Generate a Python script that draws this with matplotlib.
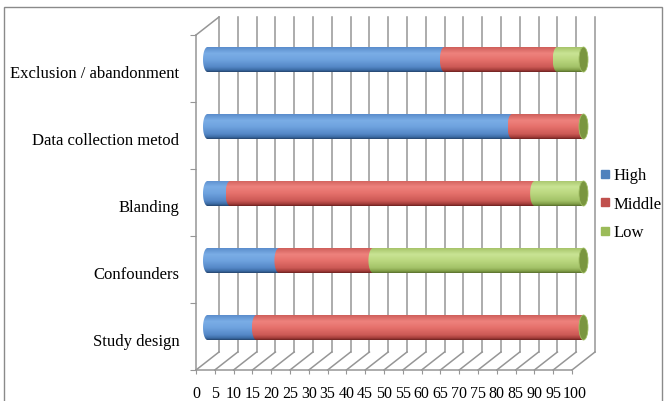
import numpy as np
import matplotlib.pyplot as plt
import matplotlib.colors as mcolors
import matplotlib.transforms as mtransforms
from matplotlib.patches import Ellipse, Polygon, Rectangle
from matplotlib.lines import Line2D

# Data (percent of studies per risk-of-bias level)
categories = ['Study design', 'Confounders', 'Blanding',
              'Data collection metod', 'Exclusion / abandonment']
high = [13, 19, 6, 81, 63]
middle = [87, 25, 81, 19, 30]
low = [0, 56, 13, 0, 7]
series_names = ['High', 'Middle', 'Low']
x_ticks = list(range(0, 101, 5))

# pseudo-3D geometry (converted from pixels to data units)
PX_X = 3.76          # pixels per percent
PX_Y = 67.0          # pixels per category
DX = 23 / PX_X       # depth offset of the back wall
DY = 18 / PX_Y
BAR_H = 25 / PX_Y    # cylinder diameter
CAP_A = 4.5 / PX_X   # half-width of cylinder end ellipse

flat = {'High': '#4F81BD', 'Middle': '#C0504D', 'Low': '#9BBB59'}
stops = [0, 0.25, 0.5, 0.8, 0.93, 1.0]
shades = {
    'High':   ['#5b8dcc', '#7aade6', '#6fa3df', '#5487c7', '#3b6aa3', '#25456e'],
    'Middle': ['#cf5f5b', '#ee827d', '#e6716c', '#cc5955', '#a23c39', '#6e2220'],
    'Low':    ['#a7c46a', '#c9e494', '#bbd880', '#a3c268', '#809d47', '#586f2c'],
}
grid_col = '#969696'


def gradient(colors, n=64):
    rgb = np.array([mcolors.to_rgb(c) for c in colors])
    t = np.linspace(0, 1, n)
    arr = np.stack([np.interp(t, stops, rgb[:, k]) for k in range(3)], axis=-1)
    return arr[:, None, :]


def cylinder_piece(ax, x0, x1, yc, grad, z):
    ylo, yhi = yc - BAR_H / 2, yc + BAR_H / 2
    im = ax.imshow(grad, extent=(x0 - CAP_A, x1, ylo, yhi), aspect='auto',
                   interpolation='bilinear', zorder=z)
    th = np.linspace(np.pi / 2, 3 * np.pi / 2, 40)
    pts = [(x0 + CAP_A * np.cos(a), yc + BAR_H / 2 * np.sin(a)) for a in th]
    pts += [(x1, ylo), (x1, yhi)]
    clip = Polygon(pts, closed=True, transform=ax.transData)
    im.set_clip_path(clip)


fig = plt.figure(figsize=(6.64, 4.02), dpi=100)
ax = fig.add_axes([196 / 664, 31 / 402, 399 / 664, 353 / 402])
for s in ax.spines.values():
    s.set_visible(False)

# back wall gridlines, floor diagonals and front axis lines
for v in x_ticks:
    ax.plot([v + DX, v + DX], [-0.5 + DY, 4.5 + DY], color=grid_col, lw=1.1, zorder=1, clip_on=False)
    ax.plot([v, v + DX], [-0.5, -0.5 + DY], color=grid_col, lw=1.1, zorder=1, clip_on=False)
ax.plot([0, DX], [4.5, 4.5 + DY], color=grid_col, lw=1.1, zorder=1, clip_on=False)
ax.plot([0, 0], [-0.5, 4.5], color=grid_col, lw=1.1, zorder=1, clip_on=False)
ax.plot([0, 100], [-0.5, -0.5], color=grid_col, lw=1.1, zorder=1, clip_on=False)

# stacked cylinders sit halfway into the depth
grads = {k: gradient(v) for k, v in shades.items()}
for i, cat in enumerate(categories):
    yc = i + DY / 2
    left = DX / 2
    z = 3
    for name, vals in zip(series_names, [high, middle, low]):
        w = vals[i]
        if w > 0:
            cylinder_piece(ax, left, left + w, yc, grads[name], z)
        left += w
        z += 1
    cap = Ellipse((100 + DX / 2, yc), 2 * CAP_A, BAR_H, facecolor='#7a963f',
                  edgecolor='#9fbd63', lw=0.6, zorder=z)
    ax.add_patch(cap)

ax.set_xlim(0, 100 + DX)
ax.set_ylim(-0.5, 4.5 + DY)

ax.set_xticks(x_ticks)
ax.set_xticklabels([str(v) for v in x_ticks], family='Liberation Serif', fontsize=11.5)
ax.tick_params(axis='x', direction='out', length=3, color=grid_col, pad=8)
# the last label is pulled in a little so it does not run into "95"
last = ax.get_xticklabels()[-1]
last.set_transform(last.get_transform() + mtransforms.ScaledTranslation(0.03, 0, fig.dpi_scale_trans))

ax.set_yticks(np.arange(-0.5, 5, 1))
ax.set_yticklabels([])
ax.set_yticks(range(len(categories)), minor=True)
ax.set_yticklabels(categories, minor=True, family='Liberation Serif', fontsize=12)
ax.tick_params(axis='y', which='major', direction='out', length=4, color=grid_col)
ax.tick_params(axis='y', which='minor', length=0, pad=12)
shift = mtransforms.ScaledTranslation(0, -0.03, fig.dpi_scale_trans)
for lab in ax.get_yticklabels(minor=True):
    lab.set_transform(lab.get_transform() + shift)

handles = [Line2D([], [], marker='s', linestyle='none', markersize=5.5,
                  markerfacecolor=flat[n], markeredgecolor=flat[n]) for n in series_names]
fig.legend(handles, series_names, loc='center left', bbox_to_anchor=(600 / 664, 1 - 205 / 402),
           frameon=False, handlelength=0.6, handletextpad=0.2, labelspacing=0.75,
           borderpad=0, borderaxespad=0, prop={'family': 'Liberation Serif', 'size': 12})

# chart area border
fig.add_artist(Rectangle((4 / 664, -0.1), 658 / 664, 1.1 - 8 / 402, transform=fig.transFigure,
                         fill=False, edgecolor='#8a8a8a', lw=1))

plt.savefig('out.png', dpi=100)
